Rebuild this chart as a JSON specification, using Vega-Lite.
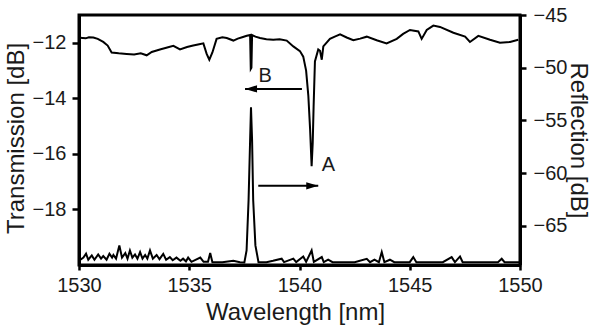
{
  "$schema": "https://vega.github.io/schema/vega-lite/v6.json",
  "width": 441,
  "height": 250,
  "autosize": "none",
  "padding": {"left": 79, "top": 15, "right": 72, "bottom": 61},
  "background": "white",
  "config": {
    "font": "Liberation Sans",
    "view": {"stroke": "black", "strokeWidth": 3},
    "axis": {
      "grid": false,
      "domainColor": "black",
      "domainWidth": 3,
      "tickColor": "black",
      "tickWidth": 2.5,
      "labelFont": "Liberation Sans",
      "labelFontSize": 20,
      "labelColor": "#1a1a1a",
      "titleFont": "Liberation Sans",
      "titleFontSize": 24,
      "titleFontWeight": "normal",
      "titleColor": "#1a1a1a",
      "labelFlush": false,
      "labelOverlap": false,
      "labelBound": false,
      "format": "d"
    },
    "axisBottom": {"tickSize": 5, "labelPadding": 21, "labelBaseline": "alphabetic", "titleX": 216, "titleY": 54, "titleBaseline": "alphabetic"},
    "axisLeft": {"tickSize": 7, "labelPadding": 6, "titleX": -56, "titleY": 123, "titleBaseline": "alphabetic", "titleAngle": -90},
    "axisRight": {"tickSize": 6, "labelPadding": 7, "titleX": 50, "titleY": 125, "titleBaseline": "alphabetic", "titleAngle": 90}
  },
  "datasets": {
    "trans": [
      {"wl": 1530.05, "db": -11.82}, {"wl": 1530.3, "db": -11.84}, {"wl": 1530.45, "db": -11.8}, {"wl": 1530.65, "db": -11.81},
      {"wl": 1530.85, "db": -11.86}, {"wl": 1531.1, "db": -11.97}, {"wl": 1531.3, "db": -12.1}, {"wl": 1531.48, "db": -12.35},
      {"wl": 1531.8, "db": -12.38}, {"wl": 1532.16, "db": -12.4}, {"wl": 1532.5, "db": -12.42}, {"wl": 1532.8, "db": -12.38},
      {"wl": 1533.07, "db": -12.45}, {"wl": 1533.3, "db": -12.33}, {"wl": 1533.67, "db": -12.24}, {"wl": 1534.0, "db": -12.17},
      {"wl": 1534.28, "db": -12.11}, {"wl": 1534.58, "db": -12.24}, {"wl": 1534.9, "db": -12.15}, {"wl": 1535.18, "db": -12.1},
      {"wl": 1535.45, "db": -12.05}, {"wl": 1535.64, "db": -12.02}, {"wl": 1535.79, "db": -12.4}, {"wl": 1535.91, "db": -12.61},
      {"wl": 1536.05, "db": -12.35}, {"wl": 1536.24, "db": -11.86}, {"wl": 1536.5, "db": -11.8}, {"wl": 1536.7, "db": -11.83},
      {"wl": 1537.0, "db": -11.92}, {"wl": 1537.2, "db": -11.85}, {"wl": 1537.4, "db": -11.8}, {"wl": 1537.61, "db": -11.75},
      {"wl": 1537.76, "db": -11.72}, {"wl": 1537.79, "db": -12.94}, {"wl": 1537.82, "db": -12.9}, {"wl": 1537.85, "db": -11.72},
      {"wl": 1538.0, "db": -11.78}, {"wl": 1538.21, "db": -11.83}, {"wl": 1538.5, "db": -11.87}, {"wl": 1538.81, "db": -11.89},
      {"wl": 1539.1, "db": -11.87}, {"wl": 1539.42, "db": -11.92}, {"wl": 1539.72, "db": -12.13}, {"wl": 1540.02, "db": -12.3},
      {"wl": 1540.17, "db": -12.5}, {"wl": 1540.3, "db": -13.0}, {"wl": 1540.4, "db": -13.9}, {"wl": 1540.48, "db": -15.1},
      {"wl": 1540.55, "db": -16.44}, {"wl": 1540.6, "db": -15.6}, {"wl": 1540.64, "db": -14.29}, {"wl": 1540.7, "db": -12.67},
      {"wl": 1540.85, "db": -12.24}, {"wl": 1540.93, "db": -12.29}, {"wl": 1541.01, "db": -12.61}, {"wl": 1541.08, "db": -12.13},
      {"wl": 1541.38, "db": -11.86}, {"wl": 1541.6, "db": -11.78}, {"wl": 1541.84, "db": -11.7}, {"wl": 1542.14, "db": -11.81},
      {"wl": 1542.44, "db": -11.91}, {"wl": 1542.75, "db": -11.85}, {"wl": 1543.05, "db": -11.78}, {"wl": 1543.5, "db": -11.91},
      {"wl": 1543.95, "db": -12.02}, {"wl": 1544.41, "db": -11.86}, {"wl": 1544.7, "db": -11.68}, {"wl": 1545.01, "db": -11.54},
      {"wl": 1545.39, "db": -11.59}, {"wl": 1545.54, "db": -11.86}, {"wl": 1545.77, "db": -11.54}, {"wl": 1546.07, "db": -11.38},
      {"wl": 1546.37, "db": -11.43}, {"wl": 1546.98, "db": -11.64}, {"wl": 1547.51, "db": -11.78}, {"wl": 1547.73, "db": -11.97},
      {"wl": 1548.11, "db": -11.75}, {"wl": 1548.64, "db": -11.89}, {"wl": 1549.09, "db": -12.0}, {"wl": 1549.55, "db": -11.97},
      {"wl": 1549.92, "db": -11.89}
    ],
    "refl": [
      {"wl": 1530.0, "db": -68.3}, {"wl": 1530.2, "db": -68.0}, {"wl": 1530.32, "db": -67.63}, {"wl": 1530.42, "db": -68.2},
      {"wl": 1530.58, "db": -67.79}, {"wl": 1530.7, "db": -68.2}, {"wl": 1530.87, "db": -67.7}, {"wl": 1531.0, "db": -68.1},
      {"wl": 1531.1, "db": -67.85}, {"wl": 1531.25, "db": -68.2}, {"wl": 1531.38, "db": -67.63}, {"wl": 1531.5, "db": -68.0},
      {"wl": 1531.56, "db": -67.75}, {"wl": 1531.68, "db": -68.1}, {"wl": 1531.83, "db": -66.84}, {"wl": 1531.95, "db": -68.0},
      {"wl": 1532.1, "db": -67.57}, {"wl": 1532.2, "db": -68.1}, {"wl": 1532.31, "db": -67.32}, {"wl": 1532.42, "db": -68.0},
      {"wl": 1532.54, "db": -67.7}, {"wl": 1532.65, "db": -68.1}, {"wl": 1532.77, "db": -67.48}, {"wl": 1532.88, "db": -68.1},
      {"wl": 1533.0, "db": -67.75}, {"wl": 1533.1, "db": -68.1}, {"wl": 1533.22, "db": -67.32}, {"wl": 1533.35, "db": -68.1},
      {"wl": 1533.52, "db": -67.75}, {"wl": 1533.65, "db": -68.15}, {"wl": 1533.82, "db": -67.65}, {"wl": 1533.95, "db": -68.2},
      {"wl": 1534.12, "db": -67.95}, {"wl": 1534.25, "db": -68.25}, {"wl": 1534.42, "db": -68.0}, {"wl": 1534.6, "db": -68.3},
      {"wl": 1534.72, "db": -68.1}, {"wl": 1534.85, "db": -68.35}, {"wl": 1534.95, "db": -68.0}, {"wl": 1535.1, "db": -68.4},
      {"wl": 1535.5, "db": -68.0}, {"wl": 1535.65, "db": -68.4}, {"wl": 1535.85, "db": -68.4}, {"wl": 1535.95, "db": -67.57},
      {"wl": 1536.05, "db": -68.43}, {"wl": 1536.5, "db": -68.43}, {"wl": 1537.0, "db": -68.3}, {"wl": 1537.3, "db": -68.43},
      {"wl": 1537.5, "db": -68.46}, {"wl": 1537.6, "db": -67.32}, {"wl": 1537.69, "db": -62.57}, {"wl": 1537.76, "db": -56.87},
      {"wl": 1537.8, "db": -53.74}, {"wl": 1537.85, "db": -56.87}, {"wl": 1537.9, "db": -62.57}, {"wl": 1538.0, "db": -66.84},
      {"wl": 1538.14, "db": -68.43}, {"wl": 1538.5, "db": -68.43}, {"wl": 1538.8, "db": -68.3}, {"wl": 1539.19, "db": -68.1},
      {"wl": 1539.3, "db": -68.43}, {"wl": 1539.72, "db": -68.1}, {"wl": 1539.85, "db": -68.43}, {"wl": 1540.17, "db": -67.9},
      {"wl": 1540.3, "db": -68.4}, {"wl": 1540.55, "db": -67.32}, {"wl": 1540.65, "db": -68.4}, {"wl": 1541.01, "db": -67.95},
      {"wl": 1541.1, "db": -68.43}, {"wl": 1541.3, "db": -68.2}, {"wl": 1541.5, "db": -68.43}, {"wl": 1542.5, "db": -68.43},
      {"wl": 1543.05, "db": -68.11}, {"wl": 1543.2, "db": -68.43}, {"wl": 1543.4, "db": -68.2}, {"wl": 1543.6, "db": -68.43},
      {"wl": 1543.73, "db": -67.48}, {"wl": 1543.85, "db": -68.43}, {"wl": 1544.1, "db": -68.2}, {"wl": 1544.3, "db": -68.43},
      {"wl": 1545.0, "db": -68.43}, {"wl": 1545.16, "db": -67.95}, {"wl": 1545.3, "db": -68.43}, {"wl": 1546.5, "db": -68.43},
      {"wl": 1546.9, "db": -67.95}, {"wl": 1547.05, "db": -68.43}, {"wl": 1547.28, "db": -67.89}, {"wl": 1547.4, "db": -68.43},
      {"wl": 1549.0, "db": -68.43}, {"wl": 1549.17, "db": -68.11}, {"wl": 1549.3, "db": -68.43}, {"wl": 1550.0, "db": -68.43}
    ],
    "arrowB": [{"wl": 1537.53, "wl2": 1540.11, "db": -13.66}],
    "arrowA": [{"wl": 1538.13, "wl2": 1540.85, "db": -17.15}],
    "labels": [{"wl": 1538.44, "db": -13.2, "label": "B"}, {"wl": 1541.31, "db": -16.4, "label": "A"}]
  },
  "layer": [
    {
      "layer": [
        {
          "data": {"name": "trans"},
          "mark": {"type": "line", "color": "black", "strokeWidth": 2},
          "encoding": {
            "x": {"field": "wl", "type": "quantitative", "scale": {"domain": [1530, 1550]}, "title": "Wavelength [nm]", "axis": {"values": [1530, 1535, 1540, 1545, 1550], "format": "d"}},
            "y": {"field": "db", "type": "quantitative", "scale": {"domain": [-19.08, -11]}, "title": "Transmission [dB]", "axis": {"values": [-18, -16, -14, -12], "orient": "left"}}
          }
        },
        {
          "data": {"name": "arrowB"},
          "mark": {"type": "rule", "color": "black", "strokeWidth": 2},
          "encoding": {
            "x": {"field": "wl", "type": "quantitative", "title": "Wavelength [nm]"},
            "x2": {"field": "wl2"},
            "y": {"field": "db", "type": "quantitative", "title": "Transmission [dB]"}
          }
        },
        {
          "data": {"name": "arrowB"},
          "mark": {"type": "point", "shape": "M0,0L2,-0.6L2,0.6Z", "filled": true, "color": "black", "size": 144, "opacity": 1},
          "encoding": {
            "x": {"field": "wl", "type": "quantitative", "title": "Wavelength [nm]"},
            "y": {"field": "db", "type": "quantitative", "title": "Transmission [dB]"}
          }
        },
        {
          "data": {"name": "arrowA"},
          "mark": {"type": "rule", "color": "black", "strokeWidth": 2},
          "encoding": {
            "x": {"field": "wl", "type": "quantitative", "title": "Wavelength [nm]"},
            "x2": {"field": "wl2"},
            "y": {"field": "db", "type": "quantitative", "title": "Transmission [dB]"}
          }
        },
        {
          "data": {"name": "arrowA"},
          "mark": {"type": "point", "shape": "M0,0L-2,-0.6L-2,0.6Z", "filled": true, "color": "black", "size": 144, "opacity": 1},
          "encoding": {
            "x": {"field": "wl2", "type": "quantitative", "title": "Wavelength [nm]"},
            "y": {"field": "db", "type": "quantitative", "title": "Transmission [dB]"}
          }
        },
        {
          "data": {"name": "labels"},
          "mark": {"type": "text", "font": "Liberation Sans", "fontSize": 20, "color": "#1a1a1a", "align": "center", "baseline": "middle"},
          "encoding": {
            "x": {"field": "wl", "type": "quantitative", "title": "Wavelength [nm]"},
            "y": {"field": "db", "type": "quantitative", "title": "Transmission [dB]"},
            "text": {"field": "label"}
          }
        }
      ]
    },
    {
      "data": {"name": "refl"},
      "mark": {"type": "line", "color": "black", "strokeWidth": 2},
      "encoding": {
        "x": {"field": "wl", "type": "quantitative", "title": "Wavelength [nm]"},
        "y": {"field": "db", "type": "quantitative", "scale": {"domain": [-68.7, -45]}, "title": "Reflection [dB]", "axis": {"values": [-65, -60, -55, -50, -45], "orient": "right"}}
      }
    }
  ],
  "resolve": {"scale": {"y": "independent"}}
}
